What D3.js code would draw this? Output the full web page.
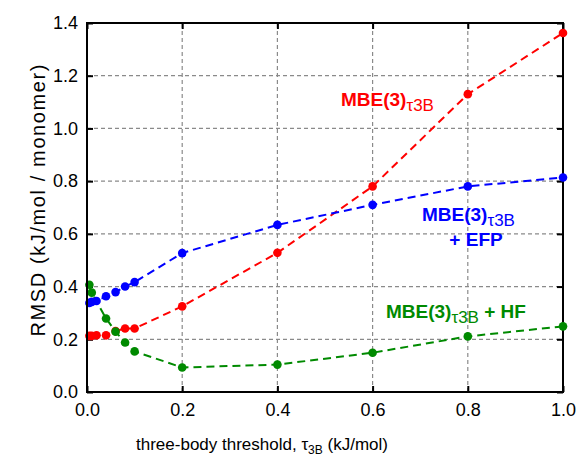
<!DOCTYPE html>
<html>
<head>
<meta charset="utf-8">
<script src="https://cdn.jsdelivr.net/npm/d3@7"></script>
<style>
  body { margin: 0; background: #fff; }
  svg { display: block; font-family: "Liberation Sans", Arial, sans-serif; }
</style>
</head>
<body>
<div id="chart"></div>
<script>
// values
const xTicks = [0, 0.2, 0.4, 0.6, 0.8, 1.0];
const yTicks = [0, 0.2, 0.4, 0.6, 0.8, 1.0, 1.2, 1.4];

const thrFull = [0.005, 0.01, 0.02, 0.04, 0.06, 0.08, 0.1, 0.2, 0.4, 0.6, 0.8, 1.0];
const thrHF = [0.005, 0.01, 0.04, 0.06, 0.08, 0.1, 0.2, 0.4, 0.6, 0.8, 1.0];

const mbe = [0.213, 0.213, 0.215, 0.215, 0.231, 0.241, 0.241, 0.325, 0.528, 0.78, 1.13, 1.362];
const mbeEfp = [0.338, 0.342, 0.345, 0.363, 0.379, 0.40, 0.417, 0.527, 0.634, 0.71, 0.78, 0.814];
const mbeHf = [0.407, 0.377, 0.279, 0.229, 0.188, 0.154, 0.093, 0.104, 0.149, 0.211, 0.249];

const W = 579, H = 458;
const pad = { l: 87, r: 16, t: 23, b: 66 };

const svg = d3.select("#chart").append("svg").attr("width", W).attr("height", H);

const x = d3.scaleLinear().domain([0, 1]).range([pad.l, W - pad.r]);
const y = d3.scaleLinear().domain([0, 1.4]).range([H - pad.b, pad.t]);

// grid
const grid = svg.append("g").attr("stroke", "#8a8a8a").attr("stroke-width", 1.2).attr("stroke-dasharray", "4,3");
grid.selectAll(".gy").data(yTicks.slice(1)).enter().append("line")
  .attr("x1", x(0)).attr("x2", x(1))
  .attr("y1", d => y(d)).attr("y2", d => y(d));
grid.selectAll(".gx").data(xTicks.slice(1, -1)).enter().append("line")
  .attr("y1", y(0)).attr("y2", y(1.4))
  .attr("x1", d => x(d)).attr("x2", d => x(d));

// axes (ticks pointing in)
const fmt = d3.format(".1f");
const axStyle = g => {
  g.select(".domain").remove();
  g.selectAll(".tick line").attr("stroke", "#000").attr("stroke-width", 2);
  g.selectAll(".tick text").attr("font-size", 18).attr("fill", "#000");
};
svg.append("g").attr("transform", `translate(${x(0)},0)`)
  .call(d3.axisLeft(y).tickValues(yTicks).tickFormat(fmt).tickSize(-6).tickSizeOuter(0).tickPadding(9))
  .call(axStyle);
svg.append("g").attr("transform", `translate(${x(1)},0)`)
  .call(d3.axisRight(y).tickValues(yTicks).tickFormat("").tickSize(-6).tickSizeOuter(0))
  .call(axStyle);
svg.append("g").attr("transform", `translate(0,${y(0)})`)
  .call(d3.axisBottom(x).tickValues(xTicks).tickFormat(fmt).tickSize(-6).tickSizeOuter(0).tickPadding(11))
  .call(axStyle);
svg.append("g").attr("transform", `translate(0,${y(1.4)})`)
  .call(d3.axisTop(x).tickValues(xTicks).tickFormat("").tickSize(-6).tickSizeOuter(0))
  .call(axStyle);

svg.append("rect")
  .attr("x", x(0)).attr("y", y(1.4))
  .attr("width", x(1) - x(0)).attr("height", y(0) - y(1.4))
  .attr("fill", "none").attr("stroke", "#000").attr("stroke-width", 2);

// series
const series = [
  { xs: thrFull, ys: mbe, color: "#ff0000" },
  { xs: thrHF, ys: mbeHf, color: "#008a00" },
  { xs: thrFull, ys: mbeEfp, color: "#0000ff" },
];
const line = d3.line().x(d => x(d[0])).y(d => y(d[1]));
series.forEach(s => {
  const pts = s.xs.map((v, i) => [v, s.ys[i]]);
  const g = svg.append("g");
  g.append("path").datum(pts)
    .attr("d", line).attr("fill", "none")
    .attr("stroke", s.color).attr("stroke-width", 2).attr("stroke-dasharray", "8,5");
  g.selectAll("circle").data(pts).enter().append("circle")
    .attr("cx", d => x(d[0])).attr("cy", d => y(d[1])).attr("r", 4.3)
    .attr("fill", s.color);
});

// redraw the left frame edge on top of the clustered markers
svg.append("line")
  .attr("x1", x(0)).attr("x2", x(0)).attr("y1", y(0)).attr("y2", y(1.4))
  .attr("stroke", "#000").attr("stroke-width", 2);

// series labels
function mbeLabel(px, py, color, tail) {
  const t = svg.append("text").attr("x", px).attr("y", py)
    .attr("fill", color).attr("font-weight", "bold").attr("font-size", 19);
  t.append("tspan").text("MBE(3)");
  t.append("tspan").attr("font-weight", "normal").attr("font-size", 17).attr("dy", 5).text("τ3B");
  if (tail) t.append("tspan").attr("dy", -5).text(tail);
  return t;
}
mbeLabel(341, 106, "#ff0000");
mbeLabel(422, 221, "#0000ff");
svg.append("text").attr("x", 476).attr("y", 246).attr("text-anchor", "middle")
  .attr("fill", "#0000ff").attr("font-weight", "bold").attr("font-size", 19).text("+ EFP");
mbeLabel(386, 318, "#008a00", " + HF");

// axis titles
svg.append("text")
  .attr("transform", `translate(45,${(y(0) + y(1.4)) / 2 - 7}) rotate(-90)`)
  .attr("text-anchor", "middle").attr("font-size", 20)
  .attr("textLength", 272).attr("lengthAdjust", "spacing")
  .text("RMSD (kJ/mol / monomer)");
const xt = svg.append("text").attr("x", 262).attr("y", 450)
  .attr("text-anchor", "middle").attr("font-size", 17);
xt.append("tspan").text("three-body threshold, τ");
xt.append("tspan").attr("font-size", 12).attr("dy", 4).text("3B");
xt.append("tspan").attr("dy", -4).text(" (kJ/mol)");
</script>
</body>
</html>
